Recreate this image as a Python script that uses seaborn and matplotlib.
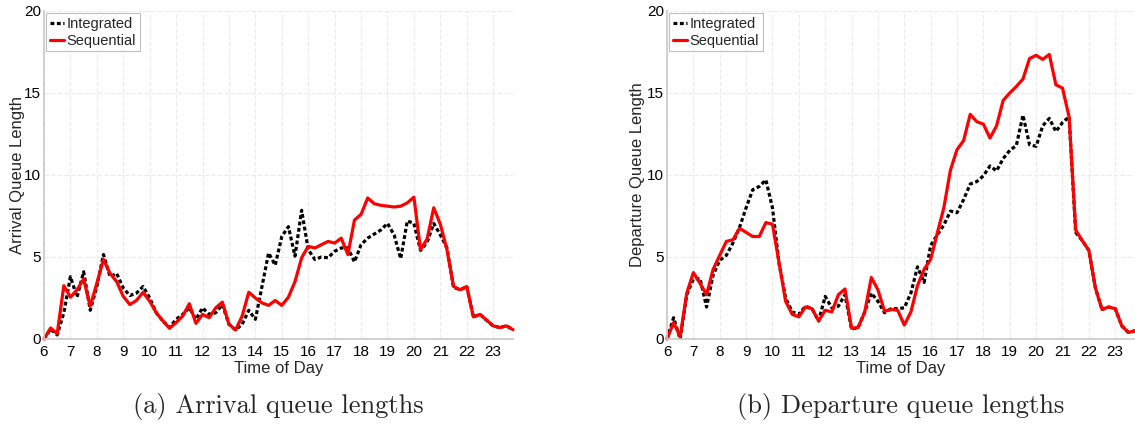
import numpy as np
import pandas as pd
import matplotlib
matplotlib.use("Agg")
import matplotlib.pyplot as plt
import seaborn as sns

# Time of day, quarter-hour slots from 06:00 to 23:45
hours = np.arange(6, 24, 0.25)

arrival_integrated = [
    0, 0.6, 0.25, 1.6, 3.8, 2.55, 4.1, 1.75, 3.2, 5.15, 3.8, 4.0,
    3.1, 2.65, 2.8, 3.2, 2.5, 1.6, 1.1, 0.7, 1.2, 1.5, 1.9, 1.2,
    1.9, 1.5, 1.6, 2.1, 0.9, 0.55, 0.9, 1.75, 1.2, 3.2, 5.25, 4.5,
    6.25, 6.85, 5.05, 7.85, 5.45, 4.85, 5.0, 4.95, 5.35, 5.55, 5.55, 4.7,
    5.75, 6.15, 6.4, 6.65, 7.05, 6.35, 4.9, 7.2, 7.05, 5.4, 5.9, 7.05,
    6.35, 5.55, 3.15, 3.0, 3.2, 1.35, 1.5, 1.15, 0.8, 0.7, 0.8, 0.57,
]
arrival_sequential = [
    0, 0.67, 0.33, 3.25, 2.55, 3.0, 3.65, 2.0, 3.4, 4.85, 4.0, 3.5,
    2.6, 2.1, 2.35, 2.85, 2.3, 1.6, 1.1, 0.65, 1.0, 1.4, 2.15, 0.95,
    1.5, 1.3, 1.9, 2.25, 0.9, 0.55, 1.4, 2.85, 2.5, 2.2, 2.05, 2.35,
    2.05, 2.55, 3.5, 4.95, 5.65, 5.55, 5.75, 5.95, 5.85, 6.15, 5.15, 7.25,
    7.6, 8.6, 8.25, 8.15, 8.1, 8.05, 8.1, 8.3, 8.65, 5.45, 6.1, 8.0,
    7.0, 5.45, 3.2, 3.0, 3.2, 1.35, 1.5, 1.15, 0.8, 0.7, 0.8, 0.57,
]
departure_integrated = [
    0, 1.3, 0.0, 2.7, 3.65, 3.7, 1.95, 3.9, 4.8, 5.1, 5.85, 6.8,
    8.0, 9.1, 9.3, 9.7, 8.0, 4.6, 2.5, 1.65, 1.5, 2.0, 1.85, 1.1,
    2.6, 1.9, 2.0, 2.7, 0.6, 0.7, 1.65, 2.8, 2.3, 1.6, 1.85, 1.85,
    1.9, 2.8, 4.4, 3.45, 5.7, 6.35, 6.95, 7.8, 7.7, 8.5, 9.45, 9.6,
    9.95, 10.55, 10.25, 11.0, 11.5, 11.8, 13.65, 11.85, 11.75, 13.0, 13.45, 12.65,
    13.2, 13.55, 6.5, 6.0, 5.4, 3.1, 1.8, 1.95, 1.85, 0.8, 0.4, 0.5,
]
departure_sequential = [
    0, 1.0, 0.15, 2.8, 4.05, 3.4, 2.7, 4.25, 5.1, 5.95, 6.05, 6.75,
    6.5, 6.25, 6.25, 7.1, 7.0, 4.65, 2.3, 1.5, 1.35, 1.95, 1.85, 1.1,
    1.75, 1.65, 2.7, 3.05, 0.65, 0.7, 1.65, 3.75, 3.0, 1.7, 1.8, 1.75,
    0.85, 1.65, 3.25, 4.25, 4.85, 6.45, 8.0, 10.3, 11.55, 12.1, 13.7, 13.25,
    13.1, 12.25, 13.0, 14.55, 15.0, 15.4, 15.85, 17.1, 17.3, 17.05, 17.35, 15.5,
    15.3, 13.55, 6.65, 6.0, 5.4, 3.1, 1.8, 1.95, 1.85, 0.8, 0.4, 0.5,
]

x_ticks = list(range(6, 24))
y_ticks = [0, 5, 10, 15, 20]

sns.set_theme(style="white")
plt.rcParams["font.family"] = ["Liberation Sans", "DejaVu Sans"]

fig = plt.figure(figsize=(11.35, 4.25), dpi=100)
ax_a = fig.add_axes([44 / 1135, 86 / 425, 469 / 1135, 328 / 425])
ax_b = fig.add_axes([667 / 1135, 86 / 425, 468 / 1135, 328 / 425])

panels = [
    (ax_a, arrival_integrated, arrival_sequential, "Arrival Queue Length",
     "(a) Arrival queue lengths", -0.040),
    (ax_b, departure_integrated, departure_sequential, "Departure Queue Length",
     "(b) Departure queue lengths", -0.047),
]

for ax, integ, seq, ylabel, caption, ylab_x in panels:
    df = pd.DataFrame({"hour": hours, "Integrated": integ, "Sequential": seq})
    sns.lineplot(data=df, x="hour", y="Integrated", ax=ax, color="black",
                 linestyle=(0, (1.2, 0.8)), linewidth=2.3, label="Integrated",
                 clip_on=False)
    sns.lineplot(data=df, x="hour", y="Sequential", ax=ax, color="#ff0000",
                 linestyle="-", linewidth=2.3, label="Sequential",
                 clip_on=False)

    ax.set_xlim(6, 23.75)
    ax.set_ylim(0, 20)
    ax.set_xticks(x_ticks)
    ax.set_yticks(y_ticks)
    ax.grid(True, color="#ebebeb", linewidth=0.8, linestyle=(0, (4, 2)))
    ax.set_axisbelow(True)
    for side in ("top", "right"):
        ax.spines[side].set_visible(False)
    for side in ("left", "bottom"):
        ax.spines[side].set_color("#c8c8c8")
        ax.spines[side].set_linewidth(1.2)
    ax.tick_params(axis="both", length=0, labelsize=11, colors="black")
    ax.tick_params(axis="x", pad=4)
    ax.tick_params(axis="y", pad=2)
    ax.set_xlabel("Time of Day", fontsize=12, labelpad=2)
    ax.set_ylabel(ylabel, fontsize=12)
    ax.yaxis.set_label_coords(ylab_x, 0.5)

    leg = ax.legend(loc="upper left", fontsize=10.5, handlelength=1.0,
                    handletextpad=0.15, borderpad=0.25, labelspacing=0.2,
                    borderaxespad=0.15, frameon=True, fancybox=False)
    leg.get_frame().set_edgecolor("#b0b0b0")
    leg.get_frame().set_linewidth(0.8)

    ax.text(0.5, -0.205, caption, transform=ax.transAxes, ha="center",
            va="center", fontsize=19, family="cmr10")

fig.savefig("out.png", dpi=100)
